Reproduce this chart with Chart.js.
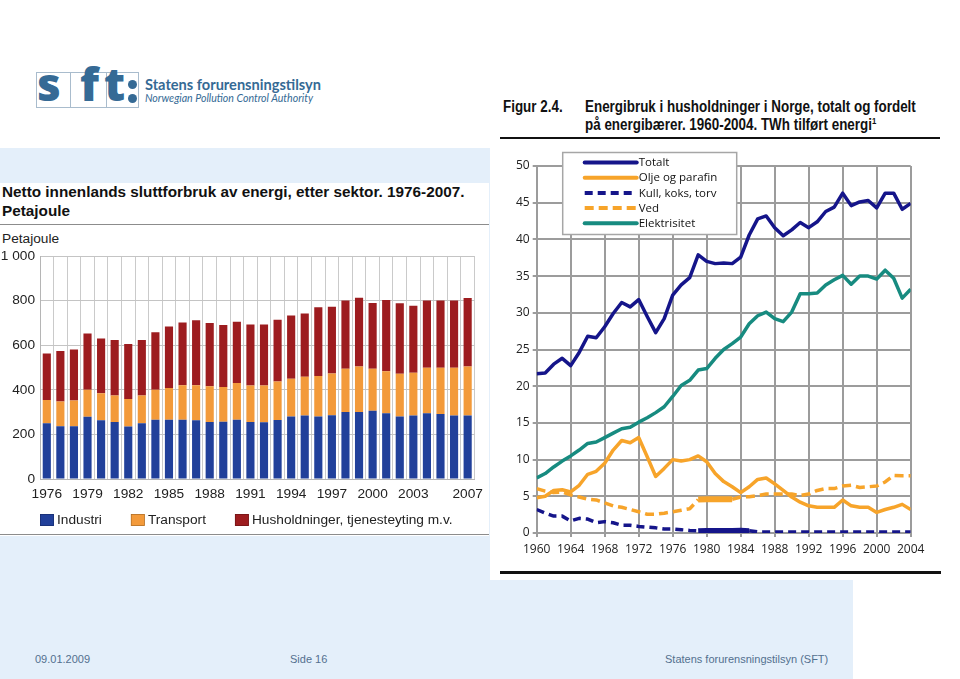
<!DOCTYPE html>
<html>
<head>
<meta charset="utf-8">
<script src="https://cdn.jsdelivr.net/npm/chart.js@4.4.1/dist/chart.umd.min.js"></script>
<style>
  html, body { margin: 0; padding: 0; }
  body { width: 960px; height: 679px; position: relative; overflow: hidden; background: #fff; font-family: "Liberation Sans", Arial, sans-serif; }
  .abs { position: absolute; }
  #blue { left: 0; top: 148px; width: 853px; height: 531px; background: #e4effa; }
  #leftWhite { left: 0; top: 183px; width: 489px; height: 353px; background: #fff; }
  #rightWhite { left: 490px; top: 0; width: 470px; height: 580px; background: #fff; }
  #lTitle { left: 2px; top: 182px; font-weight: bold; font-size: 15.3px; line-height: 19px; color: #111; white-space: nowrap; }
  #lRule1 { left: 0; top: 224px; width: 489px; height: 1px; background: #8c8c8c; }
  #lRule2 { left: 0; top: 534px; width: 489px; height: 1px; background: #8c8c8c; }
  #lUnit { left: 2px; top: 231px; font-size: 13.7px; color: #222; }
  .rt { font-family: "Liberation Sans", Arial, sans-serif; font-weight: bold; font-size: 15.6px; line-height: 18px; color: #111; white-space: nowrap; transform: scaleX(0.86); transform-origin: 0 0; }
  #rFig { left: 503px; top: 98px; }
  #rTitle { left: 585px; top: 98px; }
  #rTitle sup { font-size: 9px; vertical-align: 6px; line-height: 0; }
  #rRule1 { left: 500px; top: 137px; width: 440px; height: 2px; background: #111; }
  #rRule2 { left: 500px; top: 571px; width: 441px; height: 3px; background: #111; }
  .foot { top: 653px; font-size: 11px; color: #53708f; white-space: nowrap; }
  #logoFrame { left: 36px; top: 72px; width: 101px; height: 34px; border: 1px solid #a9bccd; }
  .logoDiv { top: 72px; width: 1px; height: 36px; background: #a9bccd; }
  .logoL { font-family: "Open Sans", sans-serif; font-weight: 800; color: #356a95; font-size: 46px; line-height: 46px; }
  #logoT1 { left: 145px; top: 76px; font-family: Lato, sans-serif; font-weight: bold; font-size: 14.6px; color: #356a95; white-space: nowrap; }
  #logoT2 { left: 145px; top: 92px; font-family: Lato, sans-serif; font-style: italic; font-size: 10.6px; color: #356a95; white-space: nowrap; }
</style>
</head>
<body>
<div id="blue" class="abs"></div>
<div id="leftWhite" class="abs"></div>
<div id="rightWhite" class="abs"></div>

<div id="logoFrame" class="abs"></div>
<div class="abs logoDiv" style="left:70px"></div>
<div class="abs logoDiv" style="left:106px"></div>
<div class="abs logoL" style="left:37px; top:60px;">s</div>
<div class="abs logoL" style="left:80px; top:60px;">f</div>
<div class="abs logoL" style="left:104px; top:60px;">t</div>
<div class="abs" style="left:128px; top:80px; width:9px; height:9px; border-radius:50%; background:#356a95;"></div>
<div class="abs" style="left:128px; top:94px; width:9px; height:9px; border-radius:50%; background:#356a95;"></div>
<div id="logoT1" class="abs">Statens forurensningstilsyn</div>
<div id="logoT2" class="abs">Norwegian Pollution Control Authority</div>

<div id="lTitle" class="abs">Netto innenlands sluttforbruk av energi, etter sektor. 1976-2007.<br>Petajoule</div>
<div id="lRule1" class="abs"></div>
<div id="lUnit" class="abs">Petajoule</div>
<div id="lRule2" class="abs"></div>

<div id="rFig" class="abs rt">Figur 2.4.</div>
<div id="rTitle" class="abs rt">Energibruk i husholdninger i Norge, totalt og fordelt<br>på energibærer. 1960-2004. TWh tilført energi<sup>1</sup></div>
<div id="rRule1" class="abs"></div>

<canvas id="left" class="abs" width="490" height="300" style="left:0; top:240px;"></canvas>
<canvas id="right" class="abs" width="455" height="423" style="left:490px; top:140px;"></canvas>
<div id="rRule2" class="abs"></div>

<div class="abs foot" style="left:35px;">09.01.2009</div>
<div class="abs foot" style="left:290px;">Side 16</div>
<div class="abs foot" style="left:665px;">Statens forurensningstilsyn (SFT)</div>

<script>
// ---------- Left chart data (Petajoule) ----------
const sectorYears = ['1976','1977','1978','1979','1980','1981','1982','1983','1984','1985','1986','1987','1988','1989','1990','1991','1992','1993','1994','1995','1996','1997','1998','1999','2000','2001','2002','2003','2004','2005','2006','2007'];
const sectorTickLabels = ['1976','1979','1982','1985','1988','1991','1994','1997','2000','2003','2007'];
const yTickLabels = ['0','200','400','600','800','1 000'];
const industri = [250,237,237,279,264,256,235,250,266,266,266,264,256,257,266,256,255,265,280,285,280,286,300,300,306,295,280,285,295,292,285,285];
const transport = [104,111,115,121,120,119,124,125,134,142,154,156,160,156,165,163,164,172,170,173,182,187,194,204,188,188,192,192,204,207,214,219];
const husholdninger = [209,226,229,252,246,248,246,248,258,276,282,292,284,278,274,274,274,277,283,284,308,299,306,309,295,320,316,300,301,301,301,308];

// ---------- Right chart data (TWh) ----------
const hhYears = [1960,1961,1962,1963,1964,1965,1966,1967,1968,1969,1970,1971,1972,1973,1974,1975,1976,1977,1978,1979,1980,1981,1982,1983,1984,1985,1986,1987,1988,1989,1990,1991,1992,1993,1994,1995,1996,1997,1998,1999,2000,2001,2002,2003,2004];
const totalt = [21.7,21.8,23.0,23.8,22.8,24.6,26.8,26.6,28.1,29.9,31.4,30.8,31.8,29.5,27.3,29.2,32.4,33.8,34.8,37.9,37.0,36.7,36.8,36.7,37.6,40.6,42.8,43.2,41.6,40.5,41.3,42.3,41.6,42.4,43.8,44.4,46.3,44.6,45.1,45.3,44.3,46.3,46.3,44.1,44.9];
const oljeParafin = [4.8,5.0,5.8,5.9,5.6,6.5,8.0,8.4,9.5,11.3,12.6,12.3,13.0,10.4,7.7,8.8,10.0,9.8,10.0,10.5,9.7,8.1,7.0,6.3,5.5,6.3,7.3,7.5,6.7,5.8,4.9,4.2,3.7,3.5,3.5,3.5,4.5,3.7,3.5,3.5,2.8,3.2,3.5,3.9,3.2];
const kullKoksTorv = [3.2,2.7,2.3,2.3,1.65,2.0,1.9,1.4,1.55,1.4,1.05,1.05,0.9,0.8,0.7,0.55,0.55,0.45,0.35,0.3,0.35,0.35,0.35,0.35,0.37,0.3,0.15,0.15,0.15,0.15,0.15,0.15,0.15,0.15,0.15,0.15,0.15,0.15,0.15,0.15,0.15,0.15,0.15,0.15,0.15];
const ved = [6.05,5.7,5.5,5.6,5.2,4.9,4.6,4.5,4.1,3.7,3.5,3.2,2.9,2.55,2.55,2.7,2.9,3.1,3.3,4.55,4.6,4.6,4.6,4.6,4.9,4.95,5.1,5.3,5.3,5.3,5.3,5.1,5.3,5.8,6.05,6.05,6.4,6.5,6.2,6.3,6.4,6.95,7.85,7.8,7.8];
const elektrisitet = [7.5,8.1,9.0,9.8,10.5,11.3,12.2,12.4,13.0,13.6,14.2,14.4,15.1,15.7,16.4,17.2,18.6,20.1,20.8,22.2,22.4,23.8,25.0,25.8,26.7,28.5,29.6,30.1,29.2,28.8,30.1,32.6,32.6,32.7,33.8,34.5,35.1,33.9,35.0,35.0,34.6,35.8,34.7,32.0,33.2];
const yTicksRight = [0,5,10,15,20,25,30,35,40,45,50];

Chart.defaults.animation = false;
const arialFont = '"Liberation Sans", Arial, sans-serif';

// Legend row under the bar chart, drawn from the datasets' own colours/labels
const barLegend = {
  id: 'barLegend',
  afterDraw(chart) {
    const { ctx, chartArea: a } = chart;
    const y = a.bottom + 41;
    let x = a.left;
    ctx.save();
    ctx.font = '13.7px ' + arialFont;
    ctx.textBaseline = 'middle';
    ctx.textAlign = 'left';
    chart.data.datasets.forEach(ds => {
      ctx.fillStyle = ds.backgroundColor;
      ctx.fillRect(x, y - 6, 14, 12);
      ctx.strokeStyle = 'rgba(0,0,0,0.35)';
      ctx.lineWidth = 0.6;
      ctx.strokeRect(x + 0.3, y - 5.7, 13.4, 11.4);
      ctx.fillStyle = '#222';
      ctx.fillText(ds.label, x + 17, y + 0.5);
      x += 17 + ctx.measureText(ds.label).width + 29;
    });
    ctx.restore();
  }
};

// ---------- Left: stacked bars ----------
new Chart(document.getElementById('left'), {
  type: 'bar',
  data: {
    labels: sectorYears,
    datasets: [
      { label: 'Industri', data: industri, backgroundColor: '#21409a' },
      { label: 'Transport', data: transport, backgroundColor: '#f39a3a' },
      { label: 'Husholdninger, tjenesteyting m.v.', data: husholdninger, backgroundColor: '#9d1c1f' }
    ]
  },
  options: {
    responsive: false,
    devicePixelRatio: 1,
    layout: { padding: { left: 0, right: 8, top: 16, bottom: 37 } },
    datasets: { bar: { barPercentage: 0.6, categoryPercentage: 1.0, borderWidth: 0 } },
    plugins: { legend: { display: false }, tooltip: { enabled: false } },
    scales: {
      x: {
        stacked: true,
        grid: { color: '#cacaca', lineWidth: 1, offset: true, drawTicks: false },
        border: { display: true, color: '#b5b5b5' },
        afterFit: s => { s.height = 24; },
        ticks: {
          autoSkip: false, maxRotation: 0, minRotation: 0, padding: 7, color: '#222',
          font: { family: arialFont, size: 13.7 },
          callback: (v, i) => sectorTickLabels.includes(sectorYears[i]) ? sectorYears[i] : ''
        }
      },
      y: {
        stacked: true, min: 0, max: 1000,
        grid: { color: '#c4c4c4', lineWidth: 1, drawTicks: false },
        border: { display: true, color: '#b5b5b5' },
        afterFit: s => { s.width = 40; },
        ticks: {
          stepSize: 200, padding: 5, color: '#222',
          font: { family: arialFont, size: 13.7 },
          callback: (v, i) => yTickLabels[i]
        }
      }
    }
  },
  plugins: [barLegend]
});

// ---------- Right: lines ----------
const legendBox = {
  id: 'legendBox',
  afterDatasetsDraw(chart) {
    const { ctx, chartArea: a } = chart;
    const x0 = a.left + 26, y0 = a.top - 13.5, w = 174, h = 82;
    ctx.save();
    ctx.fillStyle = '#ffffff';
    ctx.fillRect(x0, y0, w, h);
    ctx.strokeStyle = '#a6a6a6';
    ctx.lineWidth = 1.5;
    ctx.strokeRect(x0, y0, w, h);
    chart.data.datasets.forEach((ds, i) => {
      const y = y0 + 10 + i * 15.2;
      ctx.beginPath();
      ctx.setLineDash(ds.borderDash || []);
      ctx.lineCap = ds.borderDash ? 'butt' : 'round';
      ctx.lineWidth = 4;
      ctx.strokeStyle = ds.borderColor;
      ctx.moveTo(x0 + 22, y);
      ctx.lineTo(x0 + 74, y);
      ctx.stroke();
      ctx.setLineDash([]);
      ctx.fillStyle = '#111';
      ctx.font = '11.5px "Open Sans", sans-serif';
      ctx.textBaseline = 'middle';
      ctx.textAlign = 'left';
      ctx.fillText(ds.label, x0 + 76, y + 0.5);
    });
    ctx.restore();
  }
};

const pts = arr => hhYears.map((yr, i) => ({ x: yr, y: arr[i] }));
const navy = '#15158a', orange = '#f7a42a', teal = '#178b80';

new Chart(document.getElementById('right'), {
  type: 'line',
  data: {
    datasets: [
      { label: 'Totalt', data: pts(totalt), borderColor: navy, borderWidth: 3.5 },
      { label: 'Olje og parafin', data: pts(oljeParafin), borderColor: orange, borderWidth: 3.5 },
      { label: 'Kull, koks, torv', data: pts(kullKoksTorv), borderColor: navy, borderWidth: 3.5, borderDash: [8, 5],
        segment: { borderDash: c => (c.p0DataIndex >= 19 && c.p0DataIndex <= 24) ? [] : undefined,
                   borderWidth: c => (c.p0DataIndex >= 19 && c.p0DataIndex <= 24) ? 5 : undefined } },
      { label: 'Ved', data: pts(ved), borderColor: orange, borderWidth: 3.5, borderDash: [9, 5],
        segment: { borderDash: c => (c.p0DataIndex >= 19 && c.p0DataIndex <= 22) ? [] : undefined,
                   borderWidth: c => (c.p0DataIndex >= 19 && c.p0DataIndex <= 22) ? 6 : undefined } },
      { label: 'Elektrisitet', data: pts(elektrisitet), borderColor: teal, borderWidth: 3.5 }
    ]
  },
  options: {
    responsive: false,
    devicePixelRatio: 1,
    layout: { padding: { left: 0, right: 34.3, top: 26, bottom: 0 } },
    elements: { point: { radius: 0 }, line: { tension: 0, borderJoinStyle: 'round', borderCapStyle: 'butt' } },
    plugins: { legend: { display: false }, tooltip: { enabled: false } },
    scales: {
      x: {
        type: 'linear', min: 1960, max: 2004,
        grid: { color: '#9c9c9c', lineWidth: 2, tickLength: 4 },
        border: { display: true, color: '#9c9c9c', width: 2 },
        afterFit: s => { s.height = 30; },
        ticks: {
          stepSize: 4, padding: 5, color: '#222', maxRotation: 0,
          font: { family: '"Open Sans", sans-serif', size: 12 },
          callback: v => String(v)
        }
      },
      y: {
        min: 0, max: 50,
        grid: { color: '#9c9c9c', lineWidth: 2, tickLength: 4 },
        border: { display: true, color: '#9c9c9c', width: 2 },
        afterFit: s => { s.width = 46.7; },
        afterBuildTicks: s => { s.ticks = yTicksRight.map(v => ({ value: v })); },
        ticks: {
          padding: 3, color: '#222',
          font: { family: '"Open Sans", sans-serif', size: 12 },
          callback: v => String(v)
        }
      }
    }
  },
  plugins: [legendBox]
});
</script>
</body>
</html>
